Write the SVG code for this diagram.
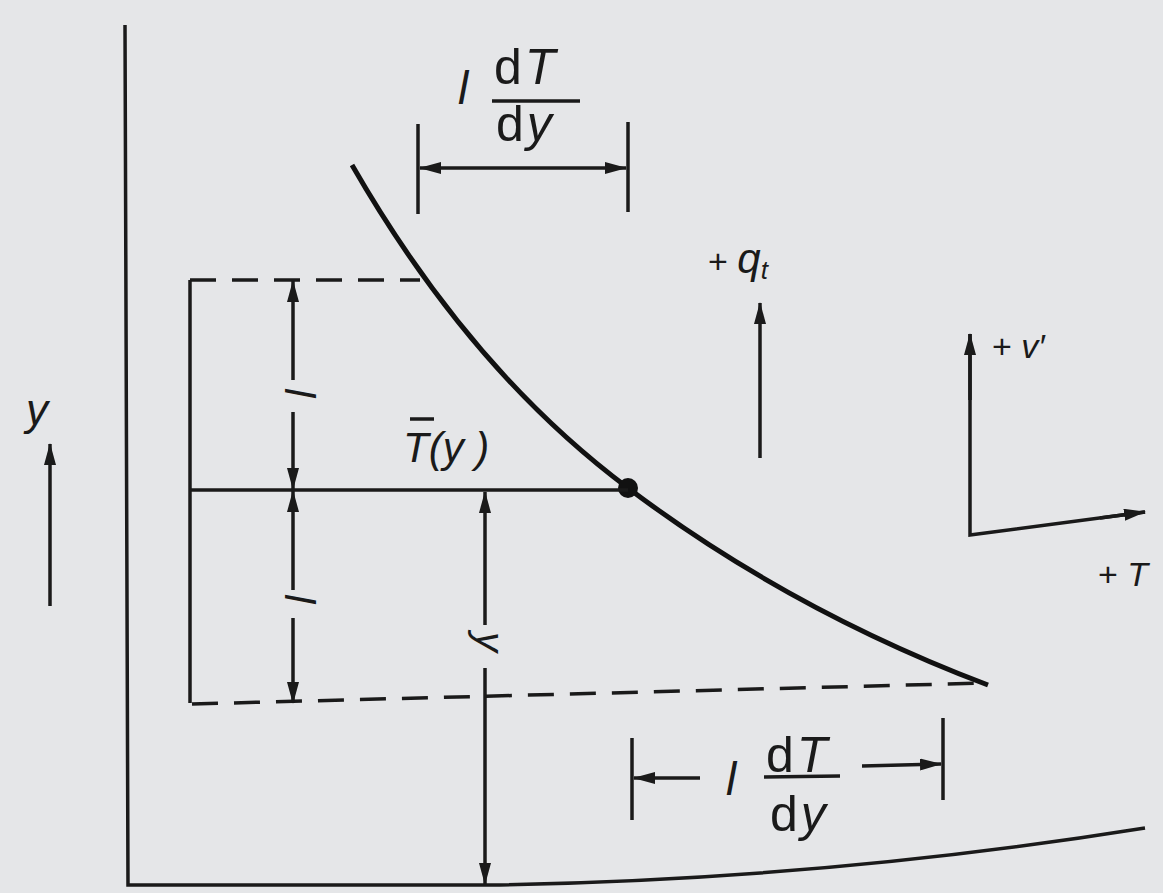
<svg xmlns="http://www.w3.org/2000/svg" width="1163" height="893" viewBox="0 0 1163 893">
<defs>
<style>
.ln{stroke:#1a1a1a;stroke-width:3.5;fill:none}
.thick{stroke:#111;stroke-width:5;fill:none}
.dash{stroke:#1a1a1a;stroke-width:3.5;fill:none;stroke-dasharray:26 16}
.t{font-family:"Liberation Sans",Arial,sans-serif;fill:#1a1a1a}
.it{font-style:italic}
.fr{font-size:50px;letter-spacing:3px}
</style>
<marker id="ah" viewBox="0 0 22 12" refX="21" refY="6" markerWidth="22" markerHeight="12" markerUnits="userSpaceOnUse" orient="auto-start-reverse">
<path d="M0,0 L22,6 L0,12 z" fill="#1a1a1a"/>
</marker>
</defs>
<rect width="1163" height="893" fill="#e5e6e8"/>
<g id="axes">
<path class="ln" d="M125,25 L128,885 L490,885 Q820,880 1145,828"/>
</g>
<g id="curve">
<path class="thick" d="M352,165 Q470,370 628,488 Q790,610 988,685"/>
<circle cx="628" cy="488" r="10" fill="#111"/>
</g>
<g id="box">
<path class="dash" d="M190,280 L420,280"/>
<path class="ln" d="M190,280 L190,703"/>
<path class="ln" d="M190,490 L628,490"/>
<path class="dash" d="M192,704 L985,683"/>
</g>
<g id="connectors">
<line class="ln" x1="293" y1="380" x2="293" y2="281" marker-end="url(#ah)"/>
<line class="ln" x1="293" y1="412" x2="293" y2="489" marker-end="url(#ah)"/>
<line class="ln" x1="293" y1="590" x2="293" y2="491" marker-end="url(#ah)"/>
<line class="ln" x1="293" y1="618" x2="293" y2="703" marker-end="url(#ah)"/>
<line class="ln" x1="485" y1="625" x2="485" y2="492" marker-end="url(#ah)"/>
<line class="ln" x1="485" y1="668" x2="485" y2="884" marker-end="url(#ah)"/>
<line class="ln" x1="418" y1="124" x2="418" y2="214"/>
<line class="ln" x1="628" y1="122" x2="628" y2="212"/>
<line class="ln" x1="420" y1="168" x2="626" y2="168" marker-start="url(#ah)" marker-end="url(#ah)"/>
<line class="ln" x1="632" y1="738" x2="632" y2="820"/>
<line class="ln" x1="943" y1="718" x2="943" y2="800"/>
<line class="ln" x1="700" y1="778" x2="634" y2="778" marker-end="url(#ah)"/>
<line class="ln" x1="862" y1="766" x2="941" y2="764" marker-end="url(#ah)"/>
<line class="ln" x1="760" y1="458" x2="760" y2="303" marker-end="url(#ah)"/>
<line class="ln" x1="50" y1="606" x2="50" y2="444" marker-end="url(#ah)"/>
<path class="ln" d="M970,334 L970,535 L1145,512"/>
<line class="ln" x1="970" y1="400" x2="970" y2="334" marker-end="url(#ah)"/>
<line class="ln" x1="1100" y1="518" x2="1145" y2="512" marker-end="url(#ah)"/>
</g>
<g id="label-top">
<text class="t it" x="458" y="104" font-size="46">l</text>
<text class="t fr" x="494" y="84">d<tspan class="it">T</tspan></text>
<line class="ln" x1="492" y1="101" x2="580" y2="101"/>
<text class="t fr" x="496" y="141">d<tspan class="it">y</tspan></text>
</g>
<g id="label-bottom">
<text class="t it" x="726" y="795" font-size="46">l</text>
<text class="t fr" x="766" y="772">d<tspan class="it">T</tspan></text>
<line class="ln" x1="764" y1="777" x2="840" y2="776"/>
<text class="t fr" x="770" y="831">d<tspan class="it">y</tspan></text>
</g>
<g id="label-l1">
<text class="t it" font-size="42" transform="translate(285,388) rotate(90)">l</text>
</g>
<g id="label-l2">
<text class="t it" font-size="42" transform="translate(285,594) rotate(90)">l</text>
</g>
<g id="label-y">
<text class="t it" font-size="40" transform="translate(476,632) rotate(90)">y</text>
</g>
<g id="label-Ty">
<text class="t it" x="403" y="462" font-size="42">T(y )</text>
<line class="ln" x1="410" y1="419" x2="434" y2="419"/>
</g>
<g id="label-q">
<text class="t" x="708" y="273" font-size="34">+ <tspan class="it" font-size="42">q</tspan><tspan class="it" font-size="26" dy="6">t</tspan></text>
</g>
<g id="label-v">
<text class="t" x="992" y="358" font-size="34">+ <tspan class="it">v′</tspan></text>
</g>
<g id="label-T">
<text class="t" x="1098" y="586" font-size="34">+ <tspan class="it">T</tspan></text>
</g>
<g id="label-yaxis">
<text class="t it" x="26" y="425" font-size="44">y</text>
</g>
</svg>
